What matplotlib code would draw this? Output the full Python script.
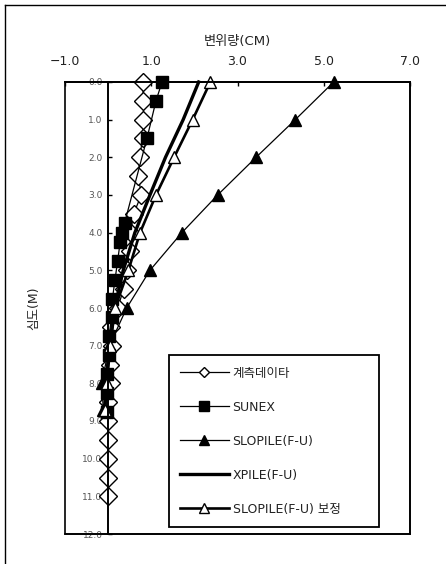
import matplotlib
matplotlib.use("Agg")
import matplotlib.pyplot as plt
from matplotlib.lines import Line2D
from matplotlib.patches import Rectangle

plt.rcParams['font.family'] = ['DejaVu Sans', 'Noto Sans CJK KR']

# 계측데이타 (measured)
meas_depth = [0, 0.5, 1, 1.5, 2, 2.5, 3, 3.5, 4, 4.5, 5, 5.5, 6, 6.5, 7, 7.5,
              8, 8.5, 9, 9.5, 10, 10.5, 11]
meas_disp = [0.80, 0.82, 0.82, 0.80, 0.73, 0.70, 0.77, 0.59, 0.52, 0.51, 0.43, 0.36,
             0.22, 0.06, 0.10, 0.05, 0.06, 0.0, 0.0, 0.0, 0.0, 0.0, 0.0]

# SUNEX
sunex_depth = [0, 0.5, 1.5, 3.75, 4.0, 4.25, 4.75, 5.25, 5.75, 6.25, 6.75, 7.25,
               7.75, 8.25, 8.75]
sunex_disp = [1.25, 1.11, 0.90, 0.38, 0.32, 0.28, 0.22, 0.16, 0.10, 0.08, 0.02, 0.03,
              -0.02, -0.03, -0.03]

# SLOPILE(F-U)
slo_depth = [0, 1, 2, 3, 4, 5, 6, 7, 8, 8.7]
slo_disp = [5.23, 4.34, 3.43, 2.54, 1.71, 0.97, 0.43, 0.03, -0.15, -0.11]

# XPILE(F-U)
xp_depth = [0, 1, 2, 3, 4, 5, 6, 7, 8, 8.7]
xp_disp = [2.10, 1.74, 1.33, 0.97, 0.62, 0.35, 0.15, 0.03, -0.05, -0.08]

# SLOPILE(F-U) 보정
cor_depth = [0, 1, 2, 3, 4, 5, 6, 7, 8, 8.7]
cor_disp = [2.37, 1.96, 1.53, 1.11, 0.74, 0.47, 0.16, 0.05, -0.03, -0.08]

xticks = [-1, 1, 3, 5, 7]
xticklabels = ['\u22121.0', '1.0', '3.0', '5.0', '7.0']
yticks = list(range(13))
yticklabels = ['%.1f' % v for v in yticks]

fig = plt.figure(figsize=(4.46, 5.64), dpi=100)
# chart area border, only left and top are inside the picture
fig.lines.append(Line2D([5 / 446, 5 / 446], [0, 1 - 5 / 564], transform=fig.transFigure,
                        color='black', lw=1.0))
fig.lines.append(Line2D([5 / 446, 1], [1 - 5 / 564, 1 - 5 / 564], transform=fig.transFigure,
                        color='black', lw=1.0))

ax = fig.add_axes([65 / 446, 1 - 534 / 564, 345 / 446, 452 / 564])

kw = dict(color='black', clip_on=False)
ax.plot(meas_disp, meas_depth, lw=0.9, marker='D', ms=9.5, mfc='white', mec='black',
        mew=1.0, label='계측데이타', **kw)
ax.plot(sunex_disp, sunex_depth, lw=0.9, marker='s', ms=8, mfc='black', mec='black',
        label='SUNEX', **kw)
ax.plot(slo_disp, slo_depth, lw=0.9, marker='^', ms=9, mfc='black', mec='black',
        label='SLOPILE(F-U)', **kw)
ax.plot(xp_disp, xp_depth, lw=2.4, label='XPILE(F-U)', **kw)
ax.plot(cor_disp, cor_depth, lw=1.9, marker='^', ms=9, mfc='white', mec='black',
        mew=1.0, label='SLOPILE(F-U) 보정', **kw)

ax.set_xlim(-1, 7)
ax.set_ylim(12, 0)

ax.spines['left'].set_position(('data', 0))
for s in ['left', 'top']:
    ax.spines[s].set_linewidth(1.4)
for s in ['right', 'bottom']:
    ax.spines[s].set_linewidth(1.2)
ax.add_patch(Rectangle((0, 0), 1, 1, transform=ax.transAxes, fill=False,
                       lw=1.2, edgecolor='black', clip_on=False))

ax.xaxis.tick_top()
ax.set_xticks(xticks)
ax.set_xticklabels(xticklabels)
ax.tick_params(axis='x', direction='in', length=3, width=1, pad=10, labelsize=9,
               labelcolor='#222222')
ax.set_yticks(yticks)
ax.set_yticklabels(yticklabels)
ax.tick_params(axis='y', direction='in', length=3, width=1, pad=4, labelsize=6.5,
               labelcolor='#555555')

ax.set_xlabel('변위량(CM)', fontsize=9.5, color='#222222')
ax.xaxis.set_label_position('top')
ax.xaxis.set_label_coords(0.5, (534 - 45) / 452)
ax.set_ylabel('심도(M)', fontsize=9, color='#222222')
ax.yaxis.set_label_coords(-0.072, 0.5)

leg = ax.legend(loc='lower left', bbox_to_anchor=(0.301, 0.0155, 0.609, 0.379),
                mode='expand', borderaxespad=0, fancybox=False, framealpha=1,
                edgecolor='black', fontsize=9, handlelength=3.9,
                handletextpad=0.3, labelspacing=1.68, borderpad=0.9)
leg.get_frame().set_linewidth(1.3)
for t in leg.get_texts():
    t.set_color('#222222')
for h, size in zip(leg.legend_handles, [5.6, 6.5, 7.8, 0, 7.8]):
    h.set_markersize(size)

fig.savefig('out.png', dpi=100)
